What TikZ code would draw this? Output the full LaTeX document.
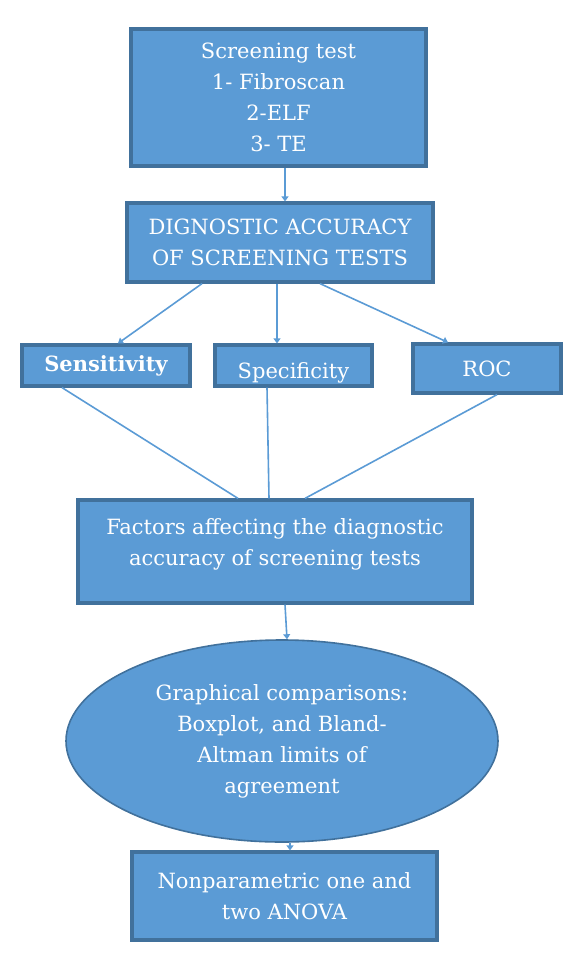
\documentclass[tikz,border=0pt]{standalone}
\usepackage{fontspec}
\setmainfont{DejaVu Serif}
\definecolor{boxblue}{RGB}{91, 155, 213}
\definecolor{edgeblue}{RGB}{65, 113, 156}
\usetikzlibrary{shapes, arrows.meta, positioning}
\tikzset{
  stepbox/.style={draw=edgeblue, fill=boxblue, line width=3.2pt, text=white, align=center,
    font=\fontsize{21}{31}\selectfont, inner sep=0pt},
  link/.style={draw=boxblue, line width=1.6pt},
  linkarrow/.style={link, -{Triangle[width=7pt,length=5pt]}}
}

\begin{document}
\begin{tikzpicture}[x=1pt, y=-1pt]
  \useasboundingbox (0,0) rectangle (585,956);
  % boxes
  \node[stepbox, minimum width=295pt, minimum height=137pt] (screen) at (278.5,97.5)
    {Screening test\\1- Fibroscan\\2-ELF\\3- TE};
  \node[stepbox, minimum width=306pt, minimum height=79pt] (accuracy) at (280,242.5)
    {DIGNOSTIC ACCURACY\\OF SCREENING TESTS};
  \node[stepbox, minimum width=168pt, minimum height=41pt, font=\fontsize{21}{31}\selectfont\bfseries] (sens) at (106,365.5)
    {Sensitivity};
  \node[stepbox, minimum width=157pt, minimum height=41pt, text height=30pt, text depth=5pt] (spec) at (293.5,365.5)
    {Specificity};
  \node[stepbox, minimum width=148pt, minimum height=49pt] (roc) at (487,368.5)
    {ROC};
  \node[stepbox, minimum width=394pt, minimum height=103pt, text depth=19pt] (factors) at (275,551.5)
    {Factors affecting the diagnostic\\accuracy of screening tests};
  \node[stepbox, ellipse, line width=1.6pt, minimum width=432pt, minimum height=202pt] (graph) at (282,741)
    {Graphical comparisons:\\Boxplot, and Bland-\\Altman limits of\\agreement};
  \node[stepbox, minimum width=305pt, minimum height=88pt] (anova) at (284.5,896)
    {Nonparametric one and\\two ANOVA};

  % connectors
  \draw[linkarrow] (screen.south -| 285,0) -- (accuracy.north -| 285,0);
  \draw[linkarrow] (accuracy.south -| 202,0) -- (sens.north -| 118,0);
  \draw[linkarrow] (accuracy.south -| 277,0) -- (spec.north -| 277,0);
  \draw[linkarrow] (accuracy.south -| 320,0) -- (roc.north -| 448,0);
  \draw[link] (sens.south -| 62,0) -- (factors.north -| 238,0);
  \draw[link] (spec.south -| 267,0) -- (factors.north -| 269,0);
  \draw[link] (roc.south -| 497,0) -- (factors.north -| 305,0);
  \draw[linkarrow] (factors.south -| 285,0) -- (graph.north -| 287,0);
  \draw[linkarrow] (graph.south -| 290,0) -- (anova.north -| 290,0);
\end{tikzpicture}
\end{document}
